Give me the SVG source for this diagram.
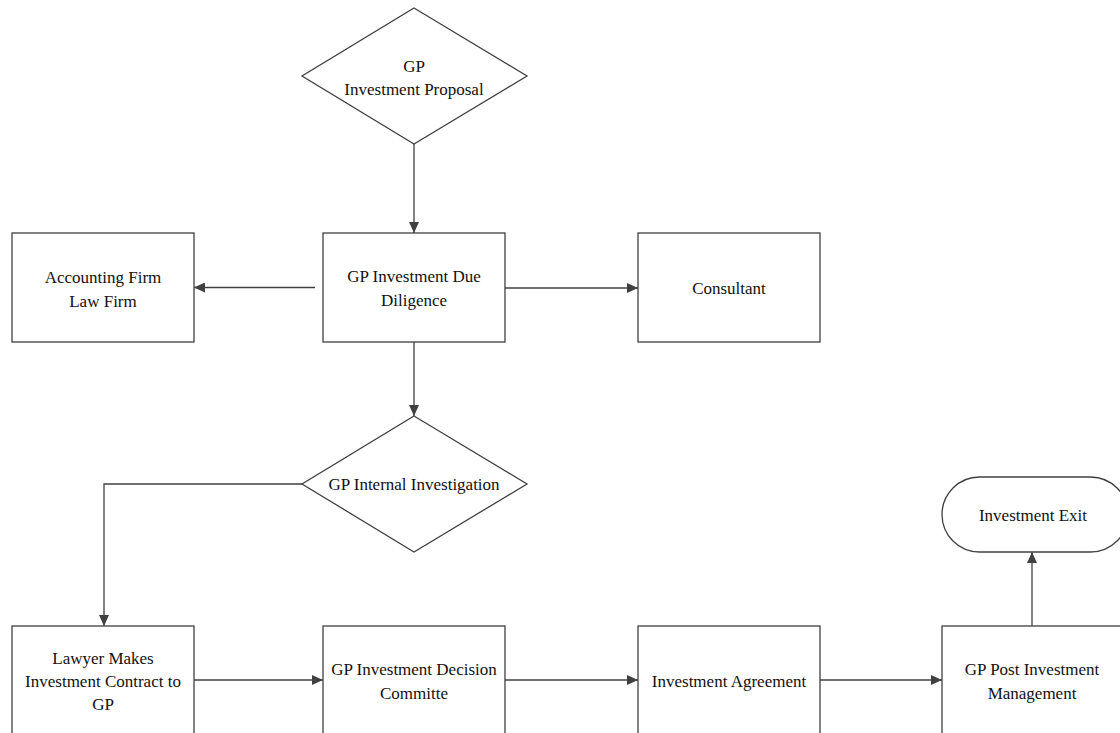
<svg xmlns="http://www.w3.org/2000/svg" width="1120" height="733" viewBox="0 0 1120 733">
<defs>
<marker id="ah" markerWidth="12" markerHeight="10" refX="11" refY="5" orient="auto" markerUnits="userSpaceOnUse">
<path d="M0,0 L11,5 L0,10 Z" fill="#404040"/>
</marker>
<style>
.shape{fill:#fff;stroke:#404040;stroke-width:1.3}
.t{font-family:"Liberation Serif","Times New Roman",serif;font-size:17px;fill:#111;text-anchor:middle}
.c{fill:none;stroke:#404040;stroke-width:1.3;marker-end:url(#ah)}
</style>
</defs>
<rect width="1120" height="733" fill="#fff"/>
<g id="connectors">
<path class="c" d="M414,144 V233"/>
<path class="c" d="M315,287.5 H194"/>
<path class="c" d="M505,288 H638"/>
<path class="c" d="M414,342 V416"/>
<path class="c" d="M302,484 H104 V626"/>
<path class="c" d="M194,680 H323"/>
<path class="c" d="M505,680 H638"/>
<path class="c" d="M820,680 H942"/>
<path class="c" d="M1032,626 V552"/>
</g>
<g id="proposal">
<polygon class="shape" points="414,8 527,76 414,144 302,76"/>
<text class="t" x="414" y="72">GP</text>
<text class="t" x="414" y="95">Investment Proposal</text>
</g>
<g id="accounting">
<rect class="shape" x="12" y="233" width="182" height="109"/>
<text class="t" x="103" y="283">Accounting Firm</text>
<text class="t" x="103" y="307">Law Firm</text>
</g>
<g id="duediligence">
<rect class="shape" x="323" y="233" width="182" height="109"/>
<text class="t" x="414" y="282">GP Investment Due</text>
<text class="t" x="414" y="306">Diligence</text>
</g>
<g id="consultant">
<rect class="shape" x="638" y="233" width="182" height="109"/>
<text class="t" x="729" y="294">Consultant</text>
</g>
<g id="internal">
<polygon class="shape" points="414,416 527,484 414,552 302,484"/>
<text class="t" x="414" y="490">GP Internal Investigation</text>
</g>
<g id="exit">
<rect class="shape" x="942" y="477" width="186" height="75" rx="37.5" ry="37.5"/>
<text class="t" x="1033" y="521">Investment Exit</text>
</g>
<g id="lawyer">
<rect class="shape" x="12" y="626" width="182" height="120"/>
<text class="t" x="103" y="664">Lawyer Makes</text>
<text class="t" x="103" y="687">Investment Contract to</text>
<text class="t" x="103" y="710">GP</text>
</g>
<g id="committee">
<rect class="shape" x="323" y="626" width="182" height="120"/>
<text class="t" x="414" y="675">GP Investment Decision</text>
<text class="t" x="414" y="699">Committe</text>
</g>
<g id="agreement">
<rect class="shape" x="638" y="626" width="182" height="120"/>
<text class="t" x="729" y="687">Investment Agreement</text>
</g>
<g id="postmgmt">
<rect class="shape" x="942" y="626" width="186" height="120"/>
<text class="t" x="1032" y="675">GP Post Investment</text>
<text class="t" x="1032" y="699">Management</text>
</g>
</svg>
